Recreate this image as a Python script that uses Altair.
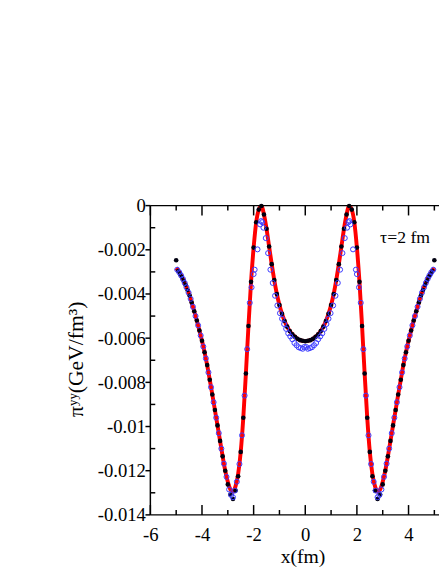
import altair as alt
import pandas as pd

# ---------------- data ----------------
red_x = [-5.0, -4.9, -4.8, -4.7, -4.6, -4.5, -4.4, -4.3, -4.2, -4.1,
         -4.0, -3.9, -3.8, -3.7, -3.6, -3.5, -3.4, -3.3, -3.2, -3.1,
         -3.0, -2.9, -2.8, -2.7, -2.6, -2.5, -2.4, -2.3, -2.2, -2.1,
         -2.0, -1.9, -1.8, -1.7, -1.6, -1.5, -1.4, -1.3, -1.2, -1.1,
         -1.0, -0.9, -0.8, -0.7, -0.6, -0.5, -0.4, -0.3, -0.2, -0.1,
         0.0,
         0.1, 0.2, 0.3, 0.4, 0.5, 0.6, 0.7, 0.8, 0.9, 1.0,
         1.1, 1.2, 1.3, 1.4, 1.5, 1.6, 1.7, 1.8, 1.9, 2.0,
         2.1, 2.2, 2.3, 2.4, 2.5, 2.6, 2.7, 2.8, 2.9, 3.0,
         3.1, 3.2, 3.3, 3.4, 3.5, 3.6, 3.7, 3.8, 3.9, 4.0,
         4.1, 4.2, 4.3, 4.4, 4.5, 4.6, 4.7, 4.8, 4.9, 5.0]
red_y = [-0.00283, -0.00298, -0.00318, -0.00342, -0.00370, -0.00400, -0.00438, -0.00478, -0.00520, -0.00565,
         -0.00612, -0.00664, -0.00722, -0.00788, -0.00855, -0.00925, -0.00995, -0.01065, -0.01135, -0.01200,
         -0.01250, -0.01285, -0.01295, -0.01270, -0.01215, -0.01115, -0.00960, -0.00760, -0.00545, -0.00345,
         -0.00190, -0.00075, -0.00018, -0.00002, -0.00040, -0.00105, -0.00185, -0.00265, -0.00337, -0.00400,
         -0.00450, -0.00490, -0.00522, -0.00548, -0.00568, -0.00583, -0.00594, -0.00603, -0.00609, -0.00612,
         -0.00614,
         -0.00612, -0.00609, -0.00603, -0.00594, -0.00583, -0.00568, -0.00548, -0.00522, -0.00490, -0.00450,
         -0.00400, -0.00337, -0.00265, -0.00185, -0.00105, -0.00040, -0.00002, -0.00018, -0.00075, -0.00190,
         -0.00345, -0.00545, -0.00760, -0.00960, -0.01115, -0.01215, -0.01270, -0.01295, -0.01285, -0.01250,
         -0.01200, -0.01135, -0.01065, -0.00995, -0.00925, -0.00855, -0.00788, -0.00722, -0.00664, -0.00612,
         -0.00565, -0.00520, -0.00478, -0.00438, -0.00400, -0.00370, -0.00342, -0.00318, -0.00298, -0.00283]

black_x_left = [-5.0, -4.92, -4.85, -4.78, -4.71, -4.64, -4.56, -4.48,
                -4.4, -4.3, -4.2, -4.1, -4.0, -3.9, -3.8, -3.7, -3.6, -3.5,
                -3.4, -3.3, -3.2, -3.1, -3.0, -2.9, -2.8, -2.7, -2.6, -2.5,
                -2.4, -2.3, -2.2, -2.1, -2.0, -1.9, -1.8, -1.7, -1.6, -1.5,
                -1.4, -1.3, -1.2, -1.1, -1.0, -0.9, -0.8, -0.7, -0.6, -0.5,
                -0.4, -0.3, -0.2, -0.1, 0.0]
black_y_left = [-0.00247, -0.00296, -0.00310, -0.00323, -0.00340, -0.00358, -0.00382, -0.00407,
                -0.00438, -0.00478, -0.00520, -0.00565, -0.00612, -0.00664, -0.00722, -0.00788, -0.00855, -0.00925,
                -0.00995, -0.01065, -0.01135, -0.01200, -0.01262, -0.01308, -0.01328, -0.01290, -0.01225, -0.01115,
                -0.00960, -0.00760, -0.00545, -0.00345, -0.00190, -0.00075, -0.00018, -0.00002, -0.00040, -0.00105,
                -0.00185, -0.00265, -0.00337, -0.00400, -0.00450, -0.00490, -0.00522, -0.00548, -0.00568, -0.00583,
                -0.00594, -0.00603, -0.00609, -0.00612, -0.00614]
black_x_right = [0.1, 0.2, 0.3, 0.4, 0.5, 0.6, 0.7, 0.8, 0.9, 1.0,
                 1.1, 1.2, 1.3, 1.4, 1.5, 1.6, 1.7, 1.8, 1.9, 2.0,
                 2.1, 2.2, 2.3, 2.4, 2.5, 2.6, 2.7, 2.8, 2.9, 3.0,
                 3.1, 3.2, 3.3, 3.4, 3.5, 3.6, 3.7, 3.8, 3.9, 4.0,
                 4.1, 4.2, 4.3, 4.4, 4.48, 4.56, 4.64, 4.71, 4.78, 4.85,
                 4.92, 5.0]
black_y_right = [-0.00612, -0.00609, -0.00603, -0.00594, -0.00583, -0.00568, -0.00548, -0.00522, -0.00490, -0.00450,
                 -0.00400, -0.00337, -0.00265, -0.00185, -0.00105, -0.00040, -0.00002, -0.00018, -0.00075, -0.00190,
                 -0.00345, -0.00545, -0.00760, -0.00960, -0.01115, -0.01225, -0.01290, -0.01328, -0.01308, -0.01262,
                 -0.01200, -0.01135, -0.01065, -0.00995, -0.00925, -0.00855, -0.00788, -0.00722, -0.00664, -0.00612,
                 -0.00565, -0.00520, -0.00478, -0.00438, -0.00407, -0.00382, -0.00358, -0.00340, -0.00323, -0.00310,
                 -0.00296, -0.00247]

blue_x_left = [-4.96, -4.88, -4.81, -4.74, -4.67, -4.60, -4.52, -4.44, -4.35, -4.25,
               -4.15, -4.05, -3.95, -3.85, -3.75, -3.65, -3.55, -3.45, -3.35, -3.25,
               -3.15, -3.05, -2.95, -2.87, -2.80, -2.73, -2.65, -2.55, -2.45, -2.35,
               -2.25, -2.15, -2.08, -2.00, -1.96, -1.85, -1.75, -1.71, -1.67, -1.62,
               -1.53, -1.44, -1.35, -1.26, -1.17, -1.08, -0.98, -0.90, -0.82, -0.74,
               -0.66, -0.58, -0.50, -0.42, -0.34, -0.26, -0.18, -0.10, -0.04]
blue_y_left = [-0.00290, -0.00302, -0.00316, -0.00332, -0.00350, -0.00370, -0.00394, -0.00422, -0.00458, -0.00500,
               -0.00542, -0.00588, -0.00638, -0.00692, -0.00755, -0.00822, -0.00890, -0.00960, -0.01030, -0.01100,
               -0.01168, -0.01228, -0.01285, -0.01310, -0.01320, -0.01290, -0.01250, -0.01170, -0.01040, -0.00860,
               -0.00650, -0.00440, -0.00370, -0.00310, -0.00290, -0.00198, -0.00085, -0.00070, -0.00075, -0.00100,
               -0.00147, -0.00215, -0.00290, -0.00350, -0.00408, -0.00452, -0.00487, -0.00512, -0.00536, -0.00558,
               -0.00578, -0.00592, -0.00605, -0.00622, -0.00632, -0.00641, -0.00645, -0.00648, -0.00640]
blue_x_right = [0.04, 0.10, 0.18, 0.26, 0.34, 0.42, 0.50, 0.58, 0.66, 0.74,
                0.82, 0.90, 0.98, 1.08, 1.17, 1.26, 1.35, 1.44, 1.53, 1.62,
                1.67, 1.71, 1.75, 1.85, 1.96, 2.00, 2.08, 2.15, 2.25, 2.35,
                2.45, 2.55, 2.65, 2.73, 2.80, 2.87, 2.95, 3.05, 3.15, 3.25,
                3.35, 3.45, 3.55, 3.65, 3.75, 3.85, 3.95, 4.05, 4.15, 4.25,
                4.35, 4.44, 4.52, 4.60, 4.67, 4.74, 4.81, 4.88, 4.96]
blue_y_right = [-0.00640, -0.00648, -0.00645, -0.00641, -0.00632, -0.00622, -0.00605, -0.00592, -0.00578, -0.00558,
                -0.00536, -0.00512, -0.00487, -0.00452, -0.00408, -0.00350, -0.00290, -0.00215, -0.00147, -0.00100,
                -0.00075, -0.00070, -0.00085, -0.00198, -0.00290, -0.00310, -0.00370, -0.00440, -0.00650, -0.00860,
                -0.01040, -0.01170, -0.01250, -0.01290, -0.01320, -0.01310, -0.01285, -0.01228, -0.01168, -0.01100,
                -0.01030, -0.00960, -0.00890, -0.00822, -0.00755, -0.00692, -0.00638, -0.00588, -0.00542, -0.00500,
                -0.00458, -0.00422, -0.00394, -0.00370, -0.00350, -0.00332, -0.00316, -0.00302, -0.00290]

x_major = [-6, -4, -2, 0, 2, 4]
x_minor = [-5, -3, -1, 1, 3, 5]
y_major = [0, -0.002, -0.004, -0.006, -0.008, -0.01, -0.012, -0.014]
y_minor = [-0.001, -0.003, -0.005, -0.007, -0.009, -0.011, -0.013]

annotation = "τ=2 fm"
x_title = "x(fm)"
y_title = "πʸʸ(GeV/fm³)"

# ---------------- chart ----------------
W, H = 294, 315
FONT = "Liberation Serif"

red_df = pd.DataFrame({"x": red_x, "y": red_y})
black_df = pd.DataFrame({"x": black_x_left + black_x_right, "y": black_y_left + black_y_right})
blue_df = pd.DataFrame({"x": blue_x_left + blue_x_right, "y": blue_y_left + blue_y_right})
one = pd.DataFrame({"d": [0]})

xscale = alt.Scale(domain=[-6, 5.18], nice=False, zero=False)
yscale = alt.Scale(domain=[-0.014, 0], nice=False, zero=False)

xaxis = alt.Axis(values=x_major, labelExpr="'' + datum.value", domain=False, ticks=False,
                 grid=False, labelPadding=11, labelFontSize=19, labelFont=FONT,
                 labelColor="black", labelOverlap=False, labelFlush=False,
                 title=x_title, titleFont=FONT, titleFontSize=20, titleFontWeight="normal",
                 titleColor="black", titleX=155, titleY=43, titleBaseline="middle",
                 titleAlign="center")
yaxis = alt.Axis(values=y_major, labelExpr="'' + datum.value", domain=False, ticks=False,
                 grid=False, labelPadding=5, labelFontSize=19, labelFont=FONT,
                 labelColor="black", labelOverlap=False, labelFlush=False,
                 title=y_title, titleFont=FONT, titleFontSize=22, titleFontWeight="normal",
                 titleColor="black", titleX=-76, titleY=156, titleAngle=270,
                 titleBaseline="middle", titleAlign="center")

X = alt.X("x:Q", scale=xscale, axis=xaxis)
Y = alt.Y("y:Q", scale=yscale, axis=yaxis)

red = alt.Chart(red_df).mark_line(color="#ff0000", strokeWidth=4, interpolate="monotone",
                                  clip=True).encode(x=X, y=Y)
black = alt.Chart(black_df).mark_circle(color="#000010", size=22, opacity=1).encode(x=X, y=Y)
blue = alt.Chart(blue_df).mark_point(shape="circle", filled=False, color="#3a3aff",
                                     strokeWidth=1, size=26, opacity=1).encode(x=X, y=Y)

LW = 1.5
frame_top = alt.Chart(one).mark_rule(color="black", strokeWidth=LW).encode(
    x=alt.value(0), x2=alt.value(W), y=alt.value(0))
frame_bottom = alt.Chart(one).mark_rule(color="black", strokeWidth=LW).encode(
    x=alt.value(0), x2=alt.value(W), y=alt.value(H))
frame_left = alt.Chart(one).mark_rule(color="black", strokeWidth=LW).encode(
    x=alt.value(0), y=alt.value(0), y2=alt.value(H))

xmaj_df = pd.DataFrame({"x": x_major})
xmin_df = pd.DataFrame({"x": x_minor})
ymaj_df = pd.DataFrame({"y": y_major})
ymin_df = pd.DataFrame({"y": y_minor})

tick_style = dict(color="black", strokeWidth=LW)
bt_major = alt.Chart(xmaj_df).mark_rule(**tick_style).encode(x=X, y=alt.value(H), y2=alt.value(H - 10))
bt_minor = alt.Chart(xmin_df).mark_rule(**tick_style).encode(x=X, y=alt.value(H), y2=alt.value(H - 5))
tp_major = alt.Chart(xmaj_df).mark_rule(**tick_style).encode(x=X, y=alt.value(0), y2=alt.value(10))
tp_minor = alt.Chart(xmin_df).mark_rule(**tick_style).encode(x=X, y=alt.value(0), y2=alt.value(5))
lf_major = alt.Chart(ymaj_df).mark_rule(**tick_style).encode(y=Y, x=alt.value(0), x2=alt.value(-5))
lf_minor = alt.Chart(ymin_df).mark_rule(**tick_style).encode(y=Y, x=alt.value(0), x2=alt.value(5))

label = alt.Chart(one).mark_text(text=annotation, font=FONT, fontSize=18, align="left",
                                 baseline="middle", color="black").encode(
    x=alt.value(234), y=alt.value(33))

chart = alt.layer(
    red, black, blue,
    frame_top, frame_bottom, frame_left,
    bt_major, bt_minor, tp_major, tp_minor, lf_major, lf_minor,
    label,
).properties(
    width=W, height=H,
    autosize=alt.AutoSizeParams(type="none"),
    padding={"left": 145, "top": 196, "right": 0, "bottom": 59},
).configure_view(stroke=None)

chart.save("out.html", embed_options={"renderer": "svg", "actions": False})
